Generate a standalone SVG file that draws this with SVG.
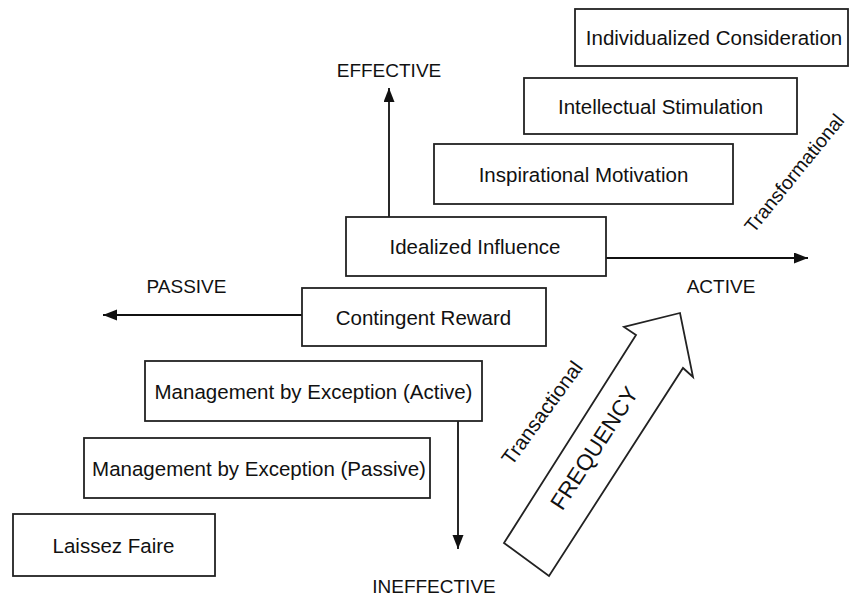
<svg xmlns="http://www.w3.org/2000/svg" width="850" height="598" viewBox="0 0 850 598">
<defs>
<style>
.box{fill:#fff;stroke:#222;stroke-width:1.8}
.bt{font-family:"Liberation Sans",Arial,sans-serif;font-size:20.5px;fill:#111;text-anchor:middle}
.lb{font-family:"Liberation Sans",Arial,sans-serif;font-size:19px;fill:#111;text-anchor:middle}
.con{stroke:#111;stroke-width:1.8;fill:none}
</style>
<marker id="ah" markerUnits="userSpaceOnUse" markerWidth="14" markerHeight="12" refX="14" refY="5.5" orient="auto">
<path d="M0,0 L14,5.5 L0,11 z" fill="#111"/>
</marker>
</defs>
<rect width="850" height="598" fill="#fff"/>
<g id="connectors">
<line class="con" x1="389" y1="217" x2="389" y2="88" marker-end="url(#ah)"/>
<line class="con" x1="606" y1="258" x2="808" y2="258" marker-end="url(#ah)"/>
<line class="con" x1="302" y1="315" x2="103" y2="315" marker-end="url(#ah)"/>
<line class="con" x1="458" y1="421" x2="458" y2="549" marker-end="url(#ah)"/>
</g>
<g id="ic"><rect class="box" x="575" y="9" width="273" height="57"/><text class="bt" x="714" y="45">Individualized Consideration</text></g>
<g id="is"><rect class="box" x="524" y="78" width="273" height="56"/><text class="bt" x="660.5" y="113.5">Intellectual Stimulation</text></g>
<g id="im"><rect class="box" x="434" y="144" width="299" height="60"/><text class="bt" x="583.5" y="181.5">Inspirational Motivation</text></g>
<g id="ii"><rect class="box" x="346" y="217" width="260" height="59"/><text class="bt" x="475" y="254">Idealized Influence</text></g>
<g id="cr"><rect class="box" x="302" y="288" width="244" height="58"/><text class="bt" x="423.5" y="324.5">Contingent Reward</text></g>
<g id="mbea"><rect class="box" x="145" y="361" width="337" height="60"/><text class="bt" x="313.5" y="398.5">Management by Exception (Active)</text></g>
<g id="mbep"><rect class="box" x="84" y="438" width="346" height="60"/><text class="bt" x="259" y="475.5">Management by Exception (Passive)</text></g>
<g id="lf"><rect class="box" x="13" y="514" width="202" height="62"/><text class="bt" x="113.5" y="552.5">Laissez Faire</text></g>
<g id="labels">
<text class="lb" style="font-size:19.5px" transform="translate(794,173) rotate(-51)" y="7">Transformational</text>
<text class="lb" x="389" y="77">EFFECTIVE</text>
<text class="lb" x="186.5" y="293">PASSIVE</text>
<text class="lb" x="721" y="293">ACTIVE</text>
<text class="lb" x="434" y="593">INEFFECTIVE</text>
<text class="lb" style="font-size:20.5px" transform="translate(542,413) rotate(-54)" y="7">Transactional</text>
</g>
<g id="frequency">
<polygon points="504,543 549,576 683,368 693,377 680,313 624,327 636,335" fill="#fff" stroke="#222" stroke-width="1.8" stroke-linejoin="miter"/>
<text class="lb" style="font-size:22.5px" transform="translate(594,448) rotate(-57)" y="8">FREQUENCY</text>
</g>
</svg>
